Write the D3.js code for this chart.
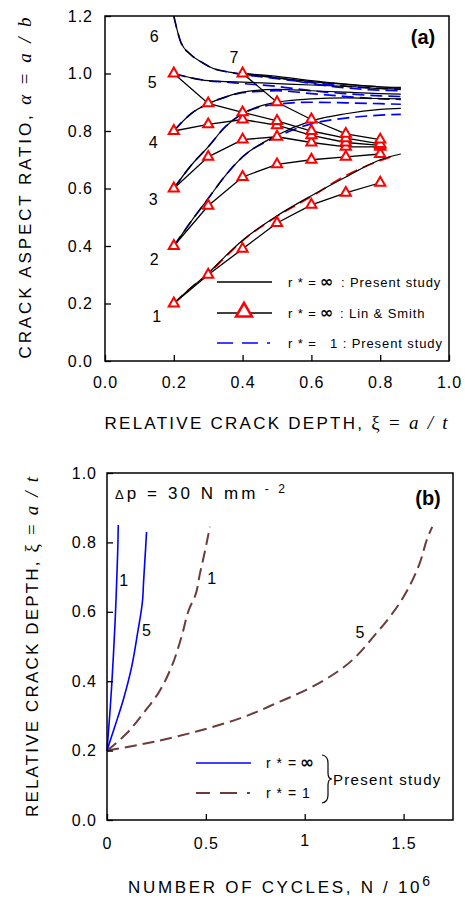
<!DOCTYPE html>
<html>
<head>
<meta charset="utf-8">
<script src="https://cdn.jsdelivr.net/npm/d3@7"></script>
<style>
  body { margin: 0; background: #fff; }
  svg text { font-family: "Liberation Sans", Arial, sans-serif; fill: #000; }
  .serif { font-family: "Liberation Serif", "DejaVu Serif", serif; }
</style>
</head>
<body>
<script>
// ---- panel (a): crack aspect ratio vs relative crack depth ----
const xiGrid = [0.2, 0.25, 0.3, 0.35, 0.4, 0.5, 0.6, 0.7, 0.8, 0.86];
const xiCurve6 = [0.2, 0.21, 0.22, 0.25, 0.28, 0.32, 0.36, 0.4, 0.5, 0.6, 0.7, 0.8, 0.86];
const xiCurve7 = [0.4, 0.5, 0.6, 0.7, 0.8, 0.86];
const xiRed1 = [0.2, 0.25, 0.3, 0.35, 0.4, 0.5, 0.6, 0.7, 0.8, 0.83];

// r* = infinity, present study (black)
const presentInf = {
  1: [0.2, 0.255, 0.305, 0.365, 0.42, 0.505, 0.575, 0.64, 0.7, 0.72],
  2: [0.4, 0.485, 0.565, 0.645, 0.71, 0.785, 0.835, 0.86, 0.875, 0.879],
  3: [0.6, 0.68, 0.745, 0.815, 0.86, 0.9, 0.912, 0.915, 0.913, 0.912],
  4: [0.8, 0.86, 0.895, 0.918, 0.935, 0.945, 0.94, 0.935, 0.93, 0.928],
  5: [1.0, 0.985, 0.975, 0.972, 0.97, 0.965, 0.96, 0.955, 0.948, 0.946],
  6: [1.2, 1.15, 1.11, 1.065, 1.04, 1.015, 1.005, 0.998, 0.985, 0.972, 0.962, 0.954, 0.952],
  7: [1.0, 0.99, 0.975, 0.963, 0.953, 0.949]
};
// r* = 1, present study (dashed)
const presentOne = {
  1: [0.2, 0.255, 0.303, 0.362, 0.418, 0.503, 0.572, 0.645, 0.697, 0.71],
  2: [0.4, 0.485, 0.565, 0.645, 0.71, 0.78, 0.825, 0.845, 0.855, 0.858],
  3: [0.6, 0.68, 0.745, 0.815, 0.86, 0.893, 0.9, 0.898, 0.895, 0.893],
  4: [0.8, 0.86, 0.895, 0.918, 0.933, 0.94, 0.93, 0.92, 0.912, 0.91],
  5: [1.0, 0.985, 0.975, 0.97, 0.965, 0.955, 0.94, 0.93, 0.922, 0.92],
  6: [1.2, 1.15, 1.11, 1.065, 1.04, 1.015, 1.005, 0.997, 0.982, 0.968, 0.956, 0.948, 0.945],
  7: [1.0, 0.985, 0.965, 0.95, 0.942, 0.94]
};

// Lin & Smith
const lsXi = [0.2, 0.3, 0.4, 0.5, 0.6, 0.7, 0.8];
const lsXi7 = [0.4, 0.5, 0.6, 0.7, 0.8];
const linSmith = {
  1: [0.2, 0.3, 0.39, 0.48, 0.543, 0.585, 0.62],
  2: [0.4, 0.54, 0.64, 0.684, 0.70, 0.71, 0.72],
  3: [0.6, 0.71, 0.77, 0.78, 0.76, 0.745, 0.745],
  4: [0.8, 0.823, 0.84, 0.82, 0.785, 0.76, 0.75],
  5: [1.0, 0.896, 0.865, 0.835, 0.80, 0.775, 0.755],
  7: [1.0, 0.90, 0.84, 0.79, 0.77]
};

const curveLabelsA = [
  { t: "6", x: 0.143, y: 1.128 }, { t: "5", x: 0.137, y: 0.97 },
  { t: "4", x: 0.14, y: 0.76 }, { t: "3", x: 0.14, y: 0.563 },
  { t: "2", x: 0.143, y: 0.355 }, { t: "1", x: 0.15, y: 0.155 },
  { t: "7", x: 0.375, y: 1.055 }
];

// ---- panel (b): crack depth vs number of cycles ----
const blueInfN1 = [0, 0.008, 0.016, 0.024, 0.032, 0.04, 0.046, 0.051, 0.055, 0.057];
const blueInfXi1 = [0.2, 0.26, 0.32, 0.39, 0.47, 0.56, 0.64, 0.72, 0.79, 0.85];
const blueInfN5 = [0, 0.04, 0.082, 0.125, 0.155, 0.18, 0.185, 0.195, 0.2];
const blueInfXi5 = [0.2, 0.27, 0.346, 0.442, 0.54, 0.634, 0.687, 0.78, 0.83];
const brownN1 = [0, 0.1, 0.183, 0.259, 0.326, 0.377, 0.42, 0.444, 0.47, 0.5, 0.52];
const brownXi1 = [0.2, 0.25, 0.307, 0.365, 0.441, 0.528, 0.614, 0.643, 0.71, 0.787, 0.845];
const brownN5 = [0, 0.2, 0.452, 0.672, 0.874, 1.008, 1.177, 1.362, 1.48, 1.581, 1.623, 1.645];
const brownXi5 = [0.2, 0.221, 0.255, 0.293, 0.341, 0.375, 0.432, 0.538, 0.625, 0.739, 0.816, 0.845];

const xTicksA = [0, 0.2, 0.4, 0.6, 0.8, 1.0];
const yTicksA = [0, 0.2, 0.4, 0.6, 0.8, 1.0, 1.2];
const xTicksB = [0, 0.5, 1, 1.5];
const yTicksB = [0, 0.2, 0.4, 0.6, 0.8, 1.0];

const BLUE = "#0000ff", RED = "#ff0000", BROWN = "#6e3b3b";
const zip = (xs, ys) => xs.map((x, i) => [x, ys[i]]);

const svg = d3.select("body").append("svg")
  .attr("width", 465).attr("height", 899)
  .style("background", "#fff");

// ================= PANEL A =================
const xa = d3.scaleLinear().domain([0, 1]).range([105, 449]);
const ya = d3.scaleLinear().domain([0, 1.2]).range([361, 16]);
const ga = svg.append("g");

const lineA = d3.line().x(d => xa(d[0])).y(d => ya(d[1])).curve(d3.curveMonotoneX);
const lineStraightA = d3.line().x(d => xa(d[0])).y(d => ya(d[1]));

// present study, r* = 1 dashed
Object.entries(presentOne).forEach(([k, vals]) => {
  const xs = k === "6" ? xiCurve6 : k === "7" ? xiCurve7 : k === "1" ? xiRed1 : xiGrid;
  ga.append("path").datum(zip(xs, vals))
    .attr("fill", "none").attr("stroke", k === "1" ? RED : BLUE)
    .attr("stroke-width", 1.7).attr("stroke-dasharray", "12,6")
    .attr("d", lineA);
});
// present study, r* = inf solid
Object.entries(presentInf).forEach(([k, vals]) => {
  const xs = k === "6" ? xiCurve6 : k === "7" ? xiCurve7 : xiGrid;
  ga.append("path").datum(zip(xs, vals))
    .attr("fill", "none").attr("stroke", "#000")
    .attr("stroke-width", 1.2)
    .attr("d", lineA);
});
// Lin & Smith
const tri = d3.symbol(d3.symbolTriangle);
Object.entries(linSmith).forEach(([k, vals]) => {
  const pts = zip(k === "7" ? lsXi7 : lsXi, vals);
  ga.append("path").datum(pts)
    .attr("fill", "none").attr("stroke", "#000").attr("stroke-width", 1.3)
    .attr("d", lineStraightA);
  ga.selectAll(null).data(pts).join("path")
    .attr("transform", d => `translate(${xa(d[0])},${ya(d[1])})`)
    .attr("d", tri.size(45)())
    .attr("fill", "#fff").attr("stroke", RED).attr("stroke-width", 2);
});

ga.selectAll(null).data(curveLabelsA).join("text")
  .attr("x", d => xa(d.x)).attr("y", d => ya(d.y))
  .attr("text-anchor", "middle").attr("dy", "0.35em")
  .style("font-size", "16px").text(d => d.t);

// frame + axes
ga.append("rect").attr("x", 105).attr("y", 16).attr("width", 344).attr("height", 345)
  .attr("fill", "none").attr("stroke", "#000").attr("stroke-width", 1.5);

const axA = ga.append("g").attr("transform", "translate(0,361)")
  .call(d3.axisBottom(xa).tickValues(xTicksA).tickFormat(d3.format(".1f")).tickSize(-6).tickPadding(16));
const ayA = ga.append("g").attr("transform", "translate(105,0)")
  .call(d3.axisLeft(ya).tickValues(yTicksA).tickFormat(d3.format(".1f")).tickSize(-6).tickPadding(12));
[axA, ayA].forEach(a => {
  a.select(".domain").remove();
  a.selectAll("line").attr("stroke-width", 1.3);
  a.selectAll("text").style("font-size", "16px").style("letter-spacing", "1px")
    .style("font-family", '"Liberation Sans", Arial, sans-serif');
});

ga.append("text").attr("x", 423).attr("y", 44).attr("text-anchor", "middle")
  .style("font-size", "20px").style("font-weight", "bold").text("(a)");

// legend (a)
const legA = ga.append("g");
legA.append("line").attr("x1", 217).attr("x2", 272).attr("y1", 282).attr("y2", 282)
  .attr("stroke", "#000").attr("stroke-width", 1.3);
legA.append("line").attr("x1", 217).attr("x2", 272).attr("y1", 313).attr("y2", 313)
  .attr("stroke", "#000").attr("stroke-width", 1.3);
legA.append("path").attr("transform", "translate(244,312)").attr("d", tri.size(110)())
  .attr("fill", "#fff").attr("stroke", RED).attr("stroke-width", 2.5);
legA.append("line").attr("x1", 217).attr("x2", 272).attr("y1", 343).attr("y2", 343)
  .attr("stroke", BLUE).attr("stroke-width", 1.6).attr("stroke-dasharray", "16,9,16,9,3");

function legendText(g, x, y, pre, inf, rest, restX, size, ls) {
  const t = g.append("text").attr("y", y).attr("dy", "0.35em").style("font-size", size + "px");
  t.append("tspan").attr("x", x).style("letter-spacing", ls + "px").text(pre);
  if (inf) t.append("tspan").attr("dx", 3).style("font-weight", "bold")
    .style("font-family", '"DejaVu Sans", sans-serif').style("font-size", (size + 3) + "px").text("∞");
  if (rest) t.append("tspan").attr("x", restX).style("letter-spacing", ls + "px").text(rest);
}
legendText(legA, 288, 282, "r * =", true, ": Present study", 341, 13, 0.9);
legendText(legA, 288, 313, "r * =", true, ": Lin & Smith", 340, 13, 0.9);
legendText(legA, 288, 343, "r * =", false, "1 : Present study", 330, 13, 0.9);

// axis titles (a)
const ttlAx = ga.append("text").attr("x", 276).attr("y", 429).attr("text-anchor", "middle")
  .attr("textLength", 343).attr("lengthAdjust", "spacing").style("font-size", "17px");
ttlAx.append("tspan").text("RELATIVE CRACK DEPTH, ");
ttlAx.append("tspan").attr("class", "serif").style("font-size", "19px").text("ξ = ");
ttlAx.append("tspan").attr("class", "serif").style("font-style", "italic").style("font-size", "19px").text("a / t");

const ttlAy = ga.append("text").attr("transform", "translate(31,188) rotate(-90)")
  .attr("text-anchor", "middle").attr("textLength", 341).attr("lengthAdjust", "spacing")
  .style("font-size", "17px");
ttlAy.append("tspan").text("CRACK ASPECT RATIO, ");
ttlAy.append("tspan").attr("class", "serif").style("font-style", "italic").style("font-size", "19px").text("α");
ttlAy.append("tspan").attr("class", "serif").style("font-size", "19px").text(" = ");
ttlAy.append("tspan").attr("class", "serif").style("font-style", "italic").style("font-size", "19px").text("a / b");

// ================= PANEL B =================
const xb = d3.scaleLinear().domain([0, 1.75]).range([107, 453]);
const yb = d3.scaleLinear().domain([0, 1]).range([820, 473]);
const gb = svg.append("g");
const lineB = d3.line().x(d => xb(d[0])).y(d => yb(d[1])).curve(d3.curveMonotoneY);

[[brownN1, brownXi1], [brownN5, brownXi5]].forEach(([n, xi]) => {
  gb.append("path").datum(zip(n, xi)).attr("fill", "none")
    .attr("stroke", BROWN).attr("stroke-width", 2).attr("stroke-dasharray", "12,6")
    .attr("d", lineB);
});
[[blueInfN1, blueInfXi1], [blueInfN5, blueInfXi5]].forEach(([n, xi]) => {
  gb.append("path").datum(zip(n, xi)).attr("fill", "none")
    .attr("stroke", BLUE).attr("stroke-width", 1.6)
    .attr("d", lineB);
});

gb.append("rect").attr("x", 107).attr("y", 473).attr("width", 346).attr("height", 347)
  .attr("fill", "none").attr("stroke", "#000").attr("stroke-width", 1.5);

const axB = gb.append("g").attr("transform", "translate(0,820)")
  .call(d3.axisBottom(xb).tickValues(xTicksB).tickFormat(d => d === 0 ? "0" : String(d)).tickSize(-6).tickPadding(18));
const ayB = gb.append("g").attr("transform", "translate(107,0)")
  .call(d3.axisLeft(yb).tickValues(yTicksB).tickFormat(d3.format(".1f")).tickSize(-6).tickPadding(10));
[axB, ayB].forEach(a => {
  a.select(".domain").remove();
  a.selectAll("line").attr("stroke-width", 1.3);
  a.selectAll("text").style("font-size", "16px").style("letter-spacing", "1px")
    .style("font-family", '"Liberation Sans", Arial, sans-serif');
});
axB.selectAll("text").filter(d => d === 1).attr("y", 15);

gb.append("text").attr("x", 428).attr("y", 505).attr("text-anchor", "middle")
  .style("font-size", "20px").style("font-weight", "bold").text("(b)");

const dp = gb.append("text").attr("x", 115).attr("y", 499).style("font-size", "17px")
  .attr("textLength", 170).attr("lengthAdjust", "spacing");
dp.append("tspan").style("font-size", "13px").text("Δ");
dp.append("tspan").text("p = 30  N mm");
dp.append("tspan").attr("dy", -6).style("font-size", "12px").text(" - 2");

const curveLabelsB = [
  { t: "1", n: 0.085, xi: 0.69 }, { t: "5", n: 0.2, xi: 0.545 },
  { t: "1", n: 0.53, xi: 0.695 }, { t: "5", n: 1.28, xi: 0.54 }
];
gb.selectAll(null).data(curveLabelsB).join("text")
  .attr("x", d => xb(d.n)).attr("y", d => yb(d.xi)).attr("dy", "0.35em")
  .attr("text-anchor", "middle").style("font-size", "16px").text(d => d.t);

// legend (b)
gb.append("line").attr("x1", 196).attr("x2", 251).attr("y1", 763).attr("y2", 763)
  .attr("stroke", BLUE).attr("stroke-width", 1.6);
gb.append("line").attr("x1", 196).attr("x2", 251).attr("y1", 793).attr("y2", 793)
  .attr("stroke", BROWN).attr("stroke-width", 2).attr("stroke-dasharray", "14,10,17,10,3");
legendText(gb, 266, 763, "r * =", true, null, 0, 14, 1);
legendText(gb, 266, 793, "r * = 1", false, null, 0, 14, 1);
gb.append("path")
  .attr("d", "M322,755 Q328,756 328,763 L328,773 Q328,779 332,779 Q328,779 328,785 L328,795 Q328,802 322,803")
  .attr("fill", "none").attr("stroke", "#000").attr("stroke-width", 1.2);
gb.append("text").attr("x", 333).attr("y", 780).attr("dy", "0.35em")
  .style("font-size", "15px").style("letter-spacing", "1.3px").text("Present study");

// axis titles (b)
const ttlBx = gb.append("text").attr("x", 279).attr("y", 893).attr("text-anchor", "middle")
  .attr("textLength", 302).attr("lengthAdjust", "spacing").style("font-size", "17px");
ttlBx.append("tspan").text("NUMBER OF CYCLES, N / 10");
ttlBx.append("tspan").attr("dy", -7).style("font-size", "14px").text("6");

const ttlBy = gb.append("text").attr("transform", "translate(38,647) rotate(-90)")
  .attr("text-anchor", "middle").attr("textLength", 340).attr("lengthAdjust", "spacing")
  .style("font-size", "17px");
ttlBy.append("tspan").text("RELATIVE CRACK DEPTH, ");
ttlBy.append("tspan").attr("class", "serif").style("font-size", "19px").text("ξ = ");
ttlBy.append("tspan").attr("class", "serif").style("font-style", "italic").style("font-size", "19px").text("a / t");
</script>
</body>
</html>
